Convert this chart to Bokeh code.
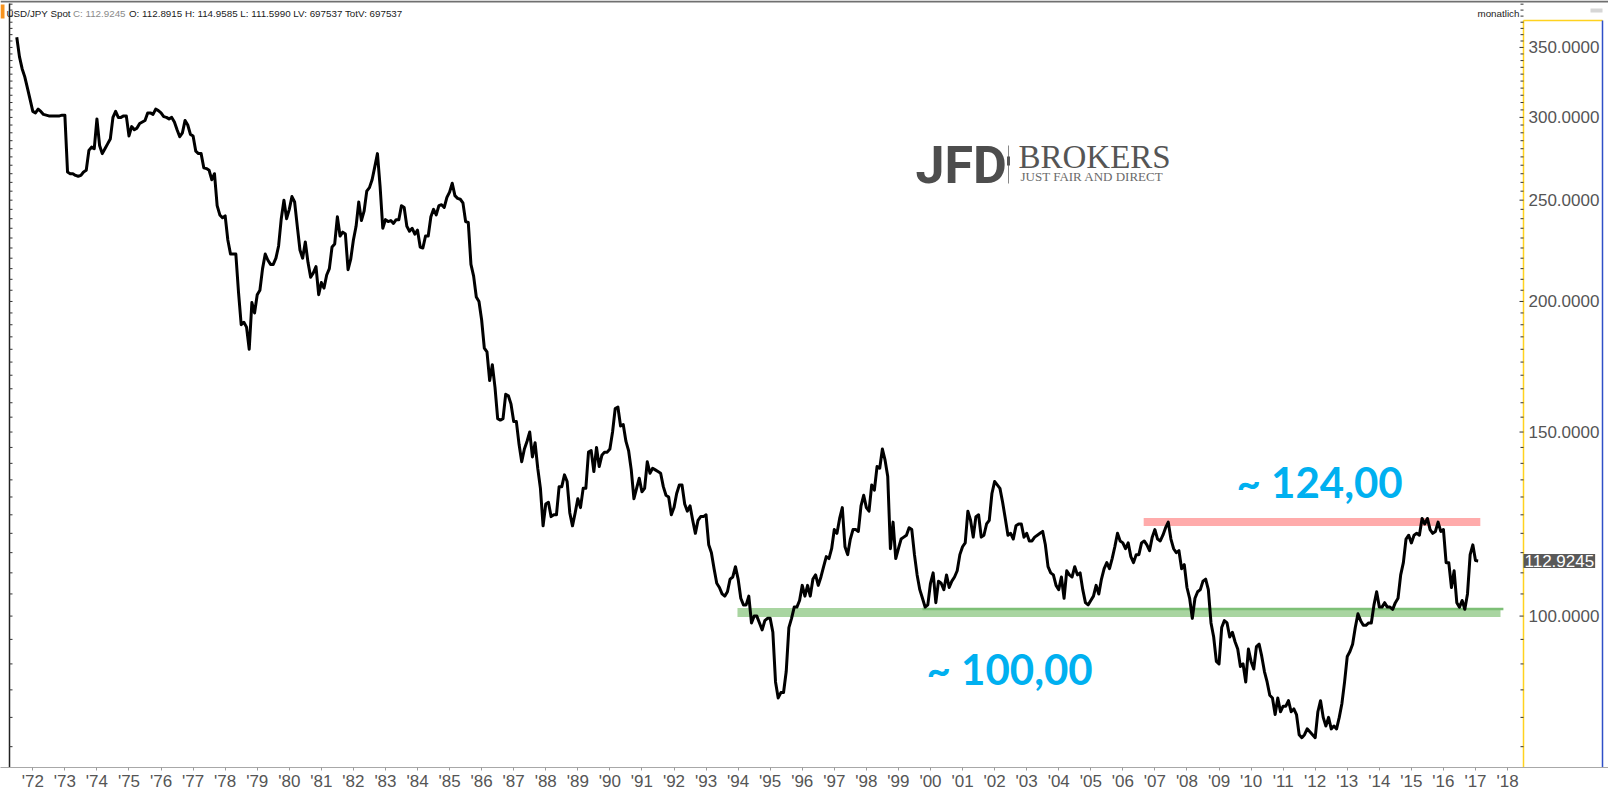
import math
from bokeh.plotting import figure
from bokeh.models import Range1d, FixedTicker, Label, BoxAnnotation
from bokeh.core.properties import value
from bokeh.embed import file_html
from bokeh.resources import INLINE

# ---------------- data: USD/JPY monthly close, Jul 1971 .. Feb 2017 ----------------
START_YEAR, START_MONTH = 1971, 7

usdjpy_1971_1979 = [
    358.0, 343.0, 334.0, 328.0, 320.0, 312.0,
    304.0, 303.0, 305.5, 304.0, 302.0, 301.5, 301.0, 301.0, 301.0, 301.0, 301.0, 301.5,
    301.5, 266.0, 265.0, 265.0, 264.0, 263.5, 264.0, 266.0, 267.0, 279.0, 281.0, 280.0,
    299.0, 282.0, 277.0, 280.0, 283.0, 286.0, 300.0, 304.0, 300.0, 300.0, 301.0, 301.0,
    288.0, 294.0, 292.0, 293.0, 296.0, 297.0, 298.0, 303.0, 303.0, 302.0, 305.5, 304.5,
    303.0, 300.5, 300.0, 299.0, 300.0, 297.0, 292.0, 287.5, 290.0, 298.0, 295.0, 289.0,
    288.0, 278.5, 277.0, 277.0, 268.5, 268.0, 267.0, 261.5, 265.0, 247.0, 242.0, 240.5,
    241.5, 229.0, 222.0, 222.0, 222.0, 204.0, 190.0, 191.0, 189.0, 180.0, 199.5, 195.0,
    203.0, 205.0, 215.0, 222.0, 219.0, 217.0, 217.0, 220.0, 226.0, 240.0, 250.0, 240.0,
]
usdjpy_1980_1989 = [
    245.0, 252.0, 249.0, 236.0, 224.0, 220.0, 228.0, 218.0, 211.0, 213.0, 216.0, 203.0,
    208.5, 206.0, 212.0, 215.0, 225.5, 227.0, 241.0, 231.0, 233.0, 232.0, 214.5, 219.5,
    229.0, 236.0, 249.0, 239.0, 244.0, 255.0, 257.0, 261.5, 269.0, 277.0, 257.5, 235.0,
    239.5, 238.5, 239.0, 237.5, 239.5, 239.5, 247.0, 246.0, 236.0, 233.5, 235.0, 232.0,
    234.0, 225.5, 225.0, 231.0, 231.0, 241.0, 245.0, 242.0, 247.0, 247.5, 246.0, 251.5,
    254.5, 259.5, 252.5, 251.0, 250.5, 248.5, 238.5, 238.0, 217.0, 211.5, 202.0, 200.0,
    192.0, 180.5, 179.0, 168.0, 174.0, 165.5, 154.5, 154.0, 154.5, 163.0, 162.5, 159.5,
    153.5, 153.5, 146.0, 140.5, 144.5, 147.0, 150.0, 142.0, 146.5, 138.5, 132.5, 122.0,
    128.0, 128.5, 124.5, 125.0, 125.0, 133.0, 133.0, 136.5, 134.5, 125.5, 122.0, 125.5,
    129.5, 127.0, 132.5, 132.5, 143.5, 144.0, 137.5, 145.0, 139.0, 142.5, 143.5, 143.5,
]
usdjpy_1990_1999 = [
    144.5, 150.0, 158.0, 158.5, 152.0, 152.5, 147.0, 144.0, 138.0, 129.5, 132.5, 135.5,
    131.5, 132.5, 140.5, 137.0, 138.5, 138.0, 137.5, 137.0, 133.0, 130.5, 130.0, 125.0,
    127.0, 131.0, 133.5, 133.5, 128.0, 126.0, 127.5, 123.5, 120.0, 123.5, 124.5, 124.5,
    125.0, 117.0, 115.0, 111.0, 107.5, 106.5, 105.0, 104.5, 105.5, 108.5, 109.0, 111.5,
    108.5, 104.0, 102.5, 102.5, 104.5, 98.5, 100.0, 100.0, 98.5, 97.0, 99.0, 99.5,
    99.5, 96.5, 86.5, 83.5, 84.5, 84.5, 88.5, 97.5, 99.5, 102.0, 102.0, 103.5,
    107.0, 104.5, 107.0, 104.5, 108.5, 109.5, 107.0, 109.0, 111.5, 114.0, 113.5, 116.0,
    121.0, 120.0, 124.0, 127.0, 116.5, 114.5, 118.5, 121.0, 121.0, 120.5, 127.5, 130.5,
    127.0, 126.0, 133.5, 132.0, 139.0, 138.5, 144.5, 141.0, 136.0, 116.0, 123.0, 113.5,
    116.0, 118.5, 119.0, 119.5, 121.5, 121.0, 114.5, 109.5, 106.0, 104.0, 102.0, 102.5,
]
usdjpy_2000_2009 = [
    107.5, 110.0, 103.0, 108.0, 107.5, 106.0, 109.5, 106.5, 108.0, 109.0, 110.5, 114.5,
    116.5, 117.5, 126.0, 123.5, 119.0, 124.5, 125.0, 119.0, 119.5, 122.5, 123.5, 131.0,
    134.5, 133.5, 132.5, 128.5, 124.0, 119.5, 120.0, 118.5, 122.0, 122.5, 122.5, 119.0,
    120.0, 118.0, 118.0, 119.0, 119.5, 120.0, 120.5, 117.0, 111.5, 110.0, 109.5, 107.0,
    106.0, 109.0, 104.0, 110.5, 109.5, 109.0, 111.5, 109.5, 110.0, 106.0, 103.0, 102.5,
    103.5, 104.5, 107.0, 105.0, 108.5, 111.0, 112.5, 111.0, 113.5, 116.5, 120.0, 118.0,
    117.5, 116.0, 117.5, 114.0, 112.5, 114.5, 114.5, 117.5, 118.0, 117.0, 115.5, 119.0,
    121.0, 118.5, 118.0, 119.5, 121.5, 123.0, 118.5, 116.0, 115.0, 115.5, 111.0, 112.0,
    106.5, 104.0, 99.5, 104.0, 105.5, 106.0, 108.0, 108.5, 106.0, 98.5, 95.5, 90.5,
    90.0, 97.5, 99.0, 98.5, 95.5, 96.5, 94.5, 93.0, 89.5, 90.0, 86.5, 93.0,
]
usdjpy_2010_2017 = [
    90.5, 89.0, 93.5, 94.0, 91.5, 88.5, 86.5, 84.0, 83.5, 80.5, 83.5, 81.0,
    82.0, 82.0, 83.0, 81.0, 81.5, 80.5, 77.0, 76.5, 77.0, 78.0, 77.5, 77.0,
    76.5, 81.0, 83.0, 80.0, 78.5, 80.0, 78.0, 78.5, 78.0, 80.0, 82.5, 86.5,
    91.5, 92.5, 94.0, 97.5, 100.5, 99.0, 98.0, 98.0, 98.5, 98.5, 102.5, 105.5,
    102.0, 102.0, 103.0, 102.0, 102.0, 101.5, 103.0, 104.0, 109.5, 112.5, 118.5, 119.5,
    117.5, 119.5, 120.0, 119.5, 124.0, 122.5, 124.0, 121.0, 120.0, 120.5, 123.0, 120.5,
    121.0, 112.5, 112.5, 106.5, 110.5, 103.0, 102.0, 103.5, 101.5, 105.0, 114.5, 117.0,
    113.0, 112.9245,
]

last_close = 112.9245
header_name = "USD/JPY Spot"
header_close = "C: 112.9245"
header_rest = "O: 112.8915 H: 114.9585 L: 111.5990 LV: 697537 TotV: 697537"

x_tick_years = list(range(1972, 2019))
x_tick_labels = ["'72", "'73", "'74", "'75", "'76", "'77", "'78", "'79", "'80", "'81",
                 "'82", "'83", "'84", "'85", "'86", "'87", "'88", "'89", "'90", "'91",
                 "'92", "'93", "'94", "'95", "'96", "'97", "'98", "'99", "'00", "'01",
                 "'02", "'03", "'04", "'05", "'06", "'07", "'08", "'09", "'10", "'11",
                 "'12", "'13", "'14", "'15", "'16", "'17", "'18"]
y_tick_values = [100, 150, 200, 250, 300, 350]
y_tick_labels = ["100.0000", "150.0000", "200.0000", "250.0000", "300.0000", "350.0000"]

# drawn support / resistance levels
resistance_level, resistance_from, resistance_to = 123.0, 2006.65, 2017.15
support_level, support_from, support_to = 100.8, 1993.98, 2017.78
support_line_level, support_line_from, support_line_to = 101.55, 1999.75, 2017.87
resistance_text, support_text = "~ 124,00", "~ 100,00"

# ---------------- geometry (pixels of the 1608x793 page) ----------------
W, H = 1608, 793
FRAME_BOTTOM = 770
X0_PX, PX_PER_YEAR = 32.3, 32.06          # position of Jan 1972, width of a year
Y100_PX, PX_PER_LN = 618.0, 455.7         # position of 100.0, pixels per ln unit
PLOT_LEFT, PLOT_RIGHT, PLOT_TOP, PLOT_BOTTOM = 9, 1523, 20, 768.5
PANEL_RIGHT = 1602


def yr(px):
    return 1972 + (px - X0_PX) / PX_PER_YEAR


def lvl(py):
    return 100.0 * math.exp((Y100_PX - py) / PX_PER_LN)


closes = usdjpy_1971_1979 + usdjpy_1980_1989 + usdjpy_1990_1999 + usdjpy_2000_2009 + usdjpy_2010_2017
months = [START_YEAR + (START_MONTH - 1 + i) / 12.0 for i in range(len(closes))]

p = figure(width=W, height=H, output_backend="svg", toolbar_location=None,
           x_range=Range1d(yr(0), yr(W)), y_range=Range1d(lvl(FRAME_BOTTOM), lvl(0)),
           y_axis_type="log", y_axis_location=None,
           min_border_left=0, min_border_right=0, min_border_top=0,
           min_border_bottom=H - FRAME_BOTTOM)
p.outline_line_color = None
p.xgrid.visible = False
p.ygrid.visible = False
p.background_fill_color = "white"
p.border_fill_color = "white"

ba = p.below[0]
ba.ticker = FixedTicker(ticks=x_tick_years)
ba.major_label_overrides = dict(zip(x_tick_years, x_tick_labels))
ba.axis_line_color = "#A8A8A8"
ba.axis_line_width = 1
ba.major_tick_in = 0
ba.major_tick_out = 3
ba.major_tick_line_color = "#9A9A9A"
ba.minor_tick_line_color = None
ba.major_label_text_font = "Liberation Sans"
ba.major_label_text_font_size = "17px"
ba.major_label_text_color = "#555555"
ba.major_label_standoff = 1


def box(l, r, t, b, color):
    p.add_layout(BoxAnnotation(left=l, right=r, top=t, bottom=b,
                               left_units="canvas", right_units="canvas",
                               top_units="canvas", bottom_units="canvas",
                               fill_color=color, fill_alpha=1.0, line_color=None,
                               level="underlay"))


# (ascent - descent) / 2 in em, to turn a wanted baseline into a "middle" anchor
HALF_SHIFT = {"Roboto": 0.342, "Liberation Serif": 0.3375, "Lato": 0.387,
              "DejaVu Sans": 0.346, "Liberation Sans": 0.3465}


def text(x, base, s, font, size, color, style="normal"):
    y = base - HALF_SHIFT[font] * size
    p.add_layout(Label(x=x, y=y, x_units="canvas", y_units="canvas", text=s,
                       text_font=font, text_font_size=f"{size}px", text_color=color,
                       text_font_style=style, text_align="left", text_baseline="middle"))


# --- frame lines / price-axis panel ---
box(0, W, 0, 2, "#707070")
box(0, 4, 4, 18, "#F7931E")
box(PLOT_LEFT - 0.75, PLOT_LEFT + 0.75, 3, PLOT_BOTTOM, "#222222")             # left edge
box(PLOT_LEFT - 0.75, PLOT_RIGHT, PLOT_BOTTOM - 1.5, PLOT_BOTTOM, "#111111")   # bottom edge
box(PLOT_RIGHT - 0.75, PLOT_RIGHT + 0.75, PLOT_TOP, PLOT_BOTTOM, "#FFD21F")    # yellow left of panel
box(PLOT_RIGHT, PANEL_RIGHT, PLOT_TOP - 0.75, PLOT_TOP + 0.75, "#FFD21F")      # yellow top of panel
box(PANEL_RIGHT - 0.75, PANEL_RIGHT + 0.75, PLOT_TOP, PLOT_BOTTOM, "#2F4FC8")  # blue right of panel
box(PLOT_RIGHT, PANEL_RIGHT + 0.75, PLOT_BOTTOM - 1.5, PLOT_BOTTOM, "#2F4FC8")
box(1590, 1602, 8, 12, "#D6D6D6")

# price-axis ticks (every 5) and labels, placed through the log y scale
y_minor = [v for v in range(75, 390, 5) if v not in y_tick_values]
p.segment(x0=[yr(PLOT_RIGHT - 3)] * len(y_minor), y0=y_minor,
          x1=[yr(PLOT_RIGHT)] * len(y_minor), y1=y_minor, line_color="#333333", line_width=1)
p.segment(x0=[yr(PLOT_RIGHT - 4)] * len(y_tick_values), y0=y_tick_values,
          x1=[yr(PLOT_RIGHT)] * len(y_tick_values), y1=y_tick_values, line_color="#333333", line_width=1)
p.segment(x0=[yr(PLOT_LEFT)] * len(y_minor), y0=y_minor,
          x1=[yr(PLOT_LEFT + 3)] * len(y_minor), y1=y_minor, line_color="#333333", line_width=1)
p.segment(x0=[yr(PLOT_LEFT)] * len(y_tick_values), y0=y_tick_values,
          x1=[yr(PLOT_LEFT + 3)] * len(y_tick_values), y1=y_tick_values, line_color="#333333", line_width=1)
p.text(x=[yr(PLOT_RIGHT + 5)] * len(y_tick_values), y=y_tick_values, text=y_tick_labels,
       text_font=value("Liberation Sans"), text_font_size=value("17px"),
       text_color="#555555", text_baseline="middle", text_align="left")

# support / resistance bands
p.segment(x0=[support_from], y0=[support_level], x1=[support_to], y1=[support_level],
          line_color="#A9D5A1", line_width=9)
p.segment(x0=[support_line_from], y0=[support_line_level], x1=[support_line_to], y1=[support_line_level],
          line_color="#7DBF76", line_width=2.5)
p.segment(x0=[resistance_from], y0=[resistance_level], x1=[resistance_to], y1=[resistance_level],
          line_color="#FFABAB", line_width=8)

# price line
p.line(months, closes, line_color="black", line_width=3, line_join="round")

# annotation texts (baseline at 500 px and 687 px)
p.add_layout(Label(x=yr(1236), y=lvl(500 - HALF_SHIFT["Lato"] * 42), text=resistance_text,
                   text_font="Lato", text_font_style="bold", text_font_size="42px",
                   text_color="#00B0F0", text_baseline="middle", text_align="left"))
p.add_layout(Label(x=yr(926), y=lvl(687 - HALF_SHIFT["Lato"] * 42), text=support_text,
                   text_font="Lato", text_font_style="bold", text_font_size="42px",
                   text_color="#00B0F0", text_baseline="middle", text_align="left"))

# last price tag on the price axis
p.add_layout(Label(x=yr(PLOT_RIGHT), y=last_close, text="112.9245", text_font="Liberation Sans",
                   text_font_size="17px", text_color="white", text_baseline="middle",
                   text_align="left", background_fill_color="#595959", padding=1))

# header line
text(6, 16.5, header_name, "Liberation Sans", 9.8, "#1A1A1A")
text(72.4, 16.5, header_close, "Liberation Sans", 9.8, "#8A8A8A")
text(128.5, 16.5, header_rest, "Liberation Sans", 9.8, "#1A1A1A")
text(1477, 16.5, "monatlich", "Liberation Sans", 9.8, "#1A1A1A")

# logo
text(915, 183, "JFD", "Roboto", 52, "#4D4D4D", style="bold")
box(1007.5, 1008.5, 145, 183, "#888888")
box(1006.5, 1009.5, 156, 165, "#555555")
text(1018, 168, "BROKERS", "Liberation Serif", 33, "#555555")
text(1020, 180, "JUST FAIR AND DIRECT", "Liberation Serif", 13, "#6A6A6A")

open("out.html", "w").write(file_html(p, INLINE))
